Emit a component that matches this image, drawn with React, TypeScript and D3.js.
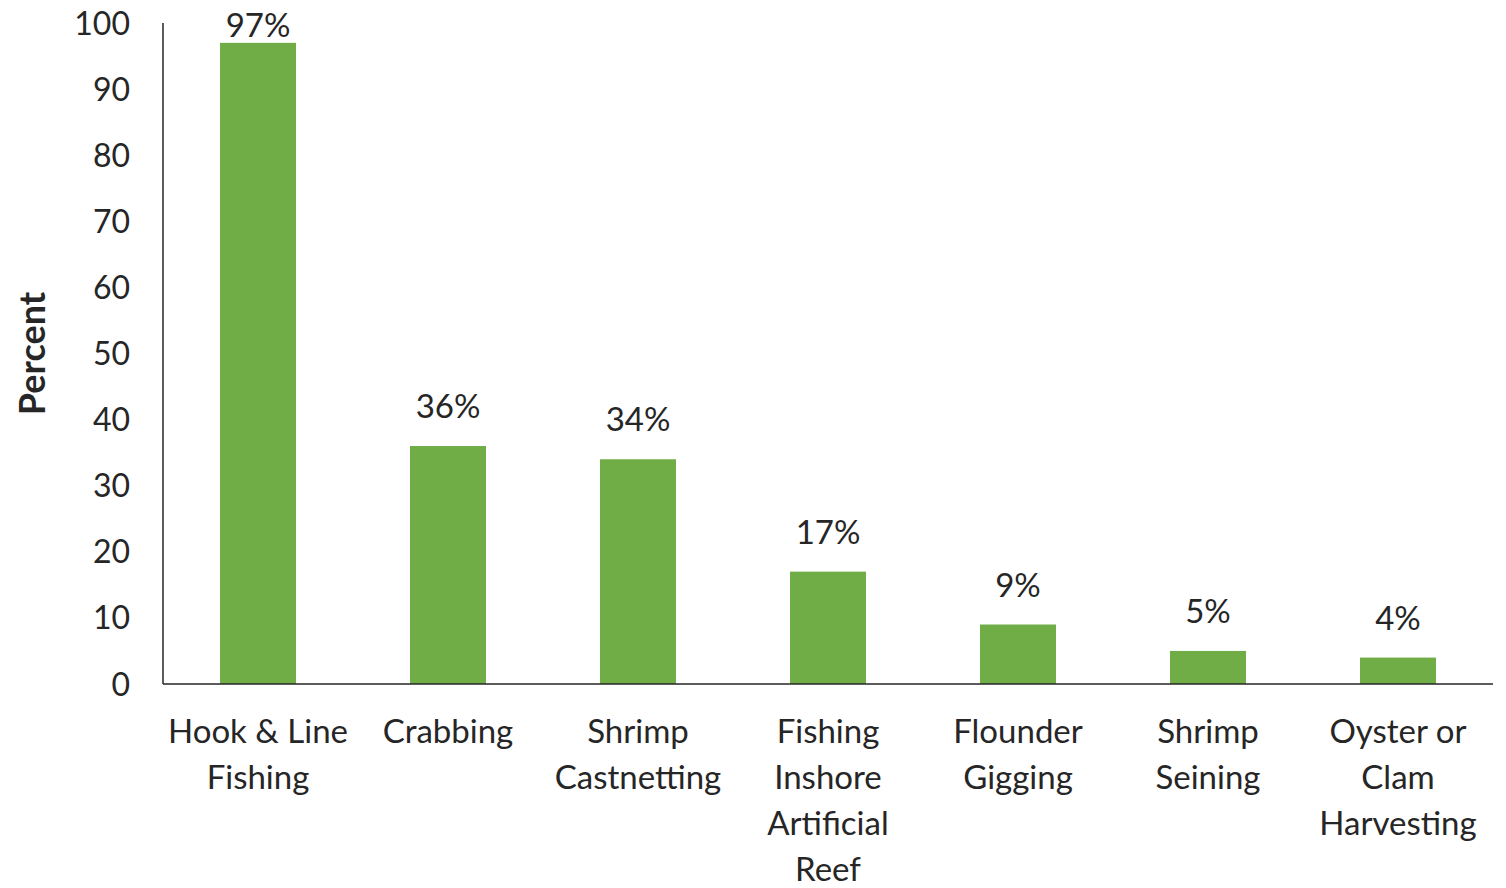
import React from "react";
import * as d3 from "d3";

const categories = [
  "Hook & Line Fishing",
  "Crabbing",
  "Shrimp Castnetting",
  "Fishing Inshore Artificial Reef",
  "Flounder Gigging",
  "Shrimp Seining",
  "Oyster or Clam Harvesting",
];
const categoryLines = [
  ["Hook & Line", "Fishing"],
  ["Crabbing"],
  ["Shrimp", "Castnetting"],
  ["Fishing", "Inshore", "Artificial", "Reef"],
  ["Flounder", "Gigging"],
  ["Shrimp", "Seining"],
  ["Oyster or", "Clam", "Harvesting"],
];
const values = [97, 36, 34, 17, 9, 5, 4];
const yTicks = [0, 10, 20, 30, 40, 50, 60, 70, 80, 90, 100];
const yTitle = "Percent";

const W = 1506;
const H = 888;
const FONT = "Lato, 'Open Sans', sans-serif";
const TEXT = "#262626";

export default function App() {
  const x = d3
    .scaleBand<string>()
    .domain(categories)
    .range([163, 1493])
    .paddingInner(0.6)
    .paddingOuter(0.3);
  const y = d3.scaleLinear().domain([0, 100]).range([684, 23]);

  return (
    <svg
      width={W}
      height={H}
      style={{ position: "absolute", left: 0, top: 0, background: "#fff" }}
      fontFamily={FONT}
    >
      {/* bars */}
      {categories.map((c, i) => (
        <rect
          key={c}
          x={x(c)}
          y={y(values[i])}
          width={x.bandwidth()}
          height={y(0) - y(values[i])}
          fill="#70AD47"
        />
      ))}
      {/* axes */}
      <line x1={163} x2={163} y1={y(100)} y2={y(0)} stroke="#262626" strokeWidth={1.5} />
      <line x1={163} x2={1493} y1={y(0)} y2={y(0)} stroke="#262626" strokeWidth={1.5} />
      {/* y tick labels */}
      {yTicks.map((t) => (
        <text
          key={t}
          x={130}
          y={y(t)}
          dy="0.36em"
          textAnchor="end"
          fontSize={32}
          fill={TEXT}
        >
          {t}
        </text>
      ))}
      {/* y title */}
      <text
        transform={`translate(45,${(y(0) + y(100)) / 2}) rotate(-90)`}
        textAnchor="middle"
        fontSize={36}
        fontWeight="bold"
        fill={TEXT}
      >
        {yTitle}
      </text>
      {/* data labels */}
      {categories.map((c, i) => (
        <text
          key={c}
          x={(x(c) ?? 0) + x.bandwidth() / 2}
          y={Math.max(37, y(values[i]) - 28)}
          textAnchor="middle"
          fontSize={33}
          fill={TEXT}
        >
          {values[i]}%
        </text>
      ))}
      {/* x labels */}
      {categories.map((c, i) => (
        <text
          key={c}
          x={(x(c) ?? 0) + x.bandwidth() / 2}
          y={743}
          textAnchor="middle"
          fontSize={33}
          fill={TEXT}
        >
          {categoryLines[i].map((l, j) => (
            <tspan key={j} x={(x(c) ?? 0) + x.bandwidth() / 2} y={743 + j * 46}>
              {l}
            </tspan>
          ))}
        </text>
      ))}
    </svg>
  );
}
